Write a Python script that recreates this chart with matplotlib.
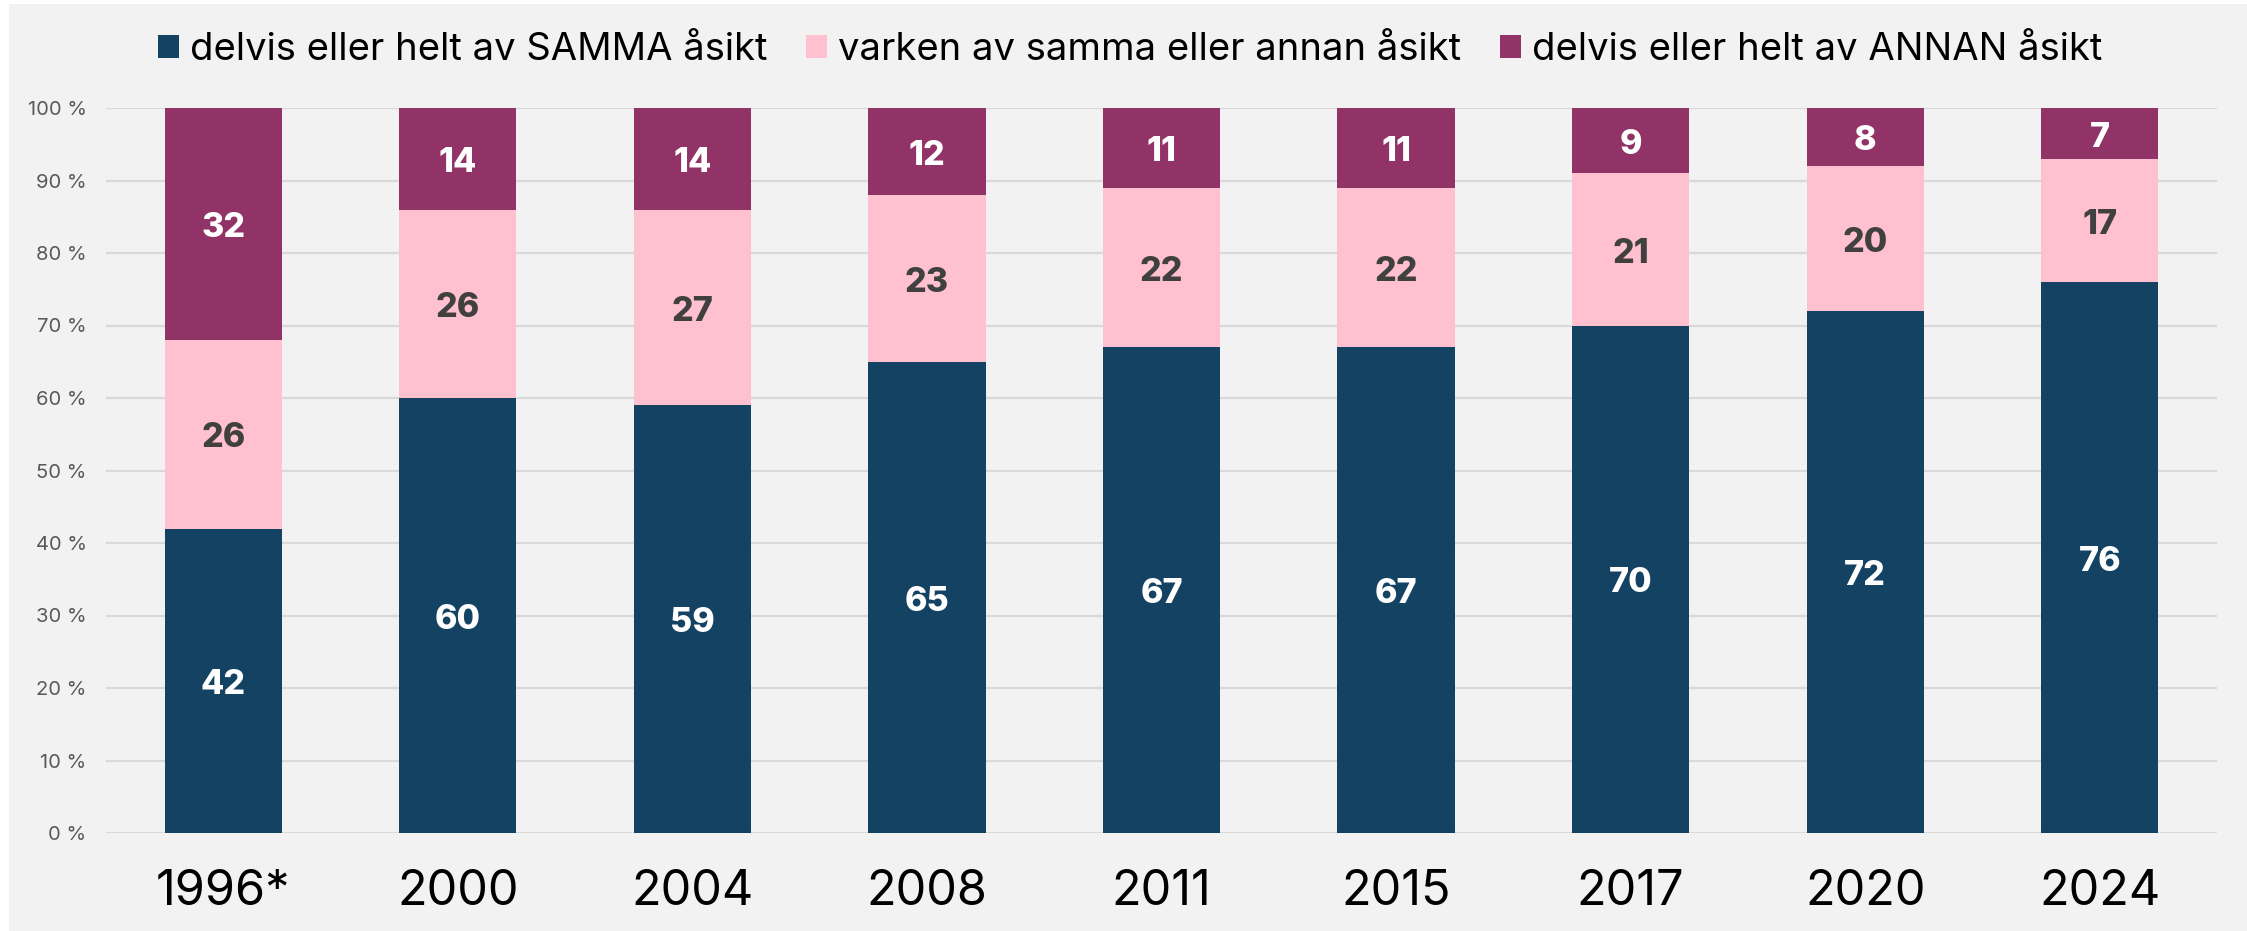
import matplotlib
matplotlib.use("Agg")
import matplotlib.pyplot as plt
from matplotlib.patches import Rectangle, Patch
from matplotlib.transforms import offset_copy
import numpy as np

years = ["1996*", "2000", "2004", "2008", "2011", "2015", "2017", "2020", "2024"]
samma = [42, 60, 59, 65, 67, 67, 70, 72, 76]
varken = [26, 26, 27, 23, 22, 22, 21, 20, 17]
annan = [32, 14, 14, 12, 11, 11, 9, 8, 7]
series_names = ["delvis eller helt av SAMMA åsikt",
                "varken av samma eller annan åsikt",
                "delvis eller helt av ANNAN åsikt"]
yticks = [0, 10, 20, 30, 40, 50, 60, 70, 80, 90, 100]

colors = ["#134263", "#FFC0CF", "#913366"]
label_colors = ["white", "#404040", "white"]

plt.rcParams['font.family'] = ['Inter', 'DejaVu Sans']

fig = plt.figure(figsize=(22.47, 9.31), dpi=100, facecolor="white")
fig.patches.append(Rectangle((9 / 2247, 0), 1 - 9 / 2247, 927 / 931,
                             transform=fig.transFigure, facecolor="#F2F2F2",
                             edgecolor="none", zorder=-10))

ax = fig.add_axes([106 / 2247, 1 - 833 / 931, 2111 / 2247, 725 / 931])
ax.set_facecolor("none")
label_tr = offset_copy(ax.transData, fig=fig, x=0, y=-3, units="points")

x = np.arange(len(years))
bottom = np.zeros(len(years))
for vals, col, lc, name in zip([samma, varken, annan], colors, label_colors, series_names):
    vals = np.array(vals, dtype=float)
    ax.bar(x, vals, width=0.5, bottom=bottom, color=col, label=name,
           zorder=3, edgecolor="none")
    for xi, b, v in zip(x, bottom, vals):
        ax.text(xi, b + v / 2, f"{int(v)}", ha="center", va="center",
                color=lc, fontsize=24.5, fontweight="heavy", zorder=4,
                transform=label_tr)
    bottom += vals

ax.set_xlim(-0.5, len(years) - 0.5)
ax.set_ylim(0, 100)
ax.set_yticks(yticks)
ax.set_yticklabels([f"{t} %" for t in yticks], fontsize=14.5, color="#595959")
ax.set_xticks(x)
ax.set_xticklabels(years, fontsize=35, color="black")
ax.tick_params(axis="x", length=0, pad=26)
ax.tick_params(axis="y", length=0, pad=14)
for s in ax.spines.values():
    s.set_visible(False)
ax.yaxis.grid(True, color="#D9D9D9", linewidth=1.6, zorder=0)
ax.set_axisbelow(True)

handles = [Patch(facecolor=c, edgecolor="none") for c in colors]
fig.legend(handles, series_names, loc="center", bbox_to_anchor=(0.503, 1 - 50 / 931),
           ncol=3, frameon=False, fontsize=27.5, handlelength=0.55, handleheight=0.55,
           handletextpad=0.3, columnspacing=1.0)

fig.savefig("out.png", dpi=100, facecolor=fig.get_facecolor())
